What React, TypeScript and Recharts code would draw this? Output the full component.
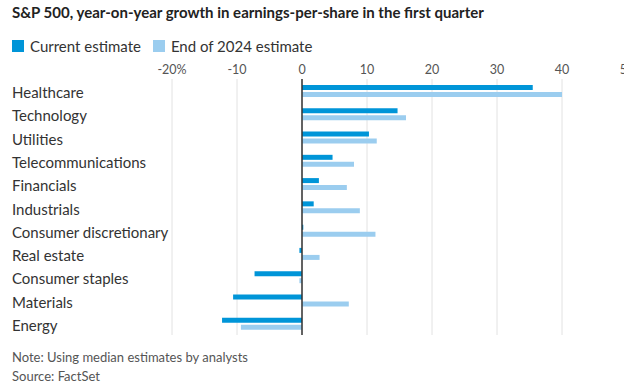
import { Bar, BarChart, CartesianGrid, ReferenceLine, XAxis, YAxis } from "recharts";

const sectors = [
  "Healthcare",
  "Technology",
  "Utilities",
  "Telecommunications",
  "Financials",
  "Industrials",
  "Consumer discretionary",
  "Real estate",
  "Consumer staples",
  "Materials",
  "Energy",
];
const currentEstimate = [35.5, 14.7, 10.3, 4.7, 2.6, 1.8, 0.2, -0.4, -7.3, -10.6, -12.3];
const end2024Estimate = [40.0, 16.0, 11.5, 8.0, 6.9, 8.9, 11.3, 2.7, -0.4, 7.2, -9.4];
const xTicks = [-20, -10, 0, 10, 20, 30, 40, 50];

const DARK = "#0095d8";
const LIGHT = "#9bcdef";
const FONT = "Lato, 'Noto Sans', sans-serif";

const data = sectors.map((name, i) => ({
  name,
  current: currentEstimate[i],
  end2024: end2024Estimate[i],
}));

function CategoryTick({ y, payload }: any) {
  return (
    <text x={12} y={y} dy={7.5} textAnchor="start" fill="#333" fontSize={15} fontFamily={FONT}>
      {payload.value}
    </text>
  );
}

function ValueTick({ x, payload }: any) {
  const label = payload.value === -20 ? "-20%" : String(payload.value);
  return (
    <text x={x} y={74} textAnchor="middle" fill="#555" fontSize={12.5} fontFamily={FONT}>
      {label}
    </text>
  );
}

export default function App() {
  return (
    <div
      style={{
        position: "absolute",
        left: 0,
        top: 0,
        width: 624,
        height: 387,
        overflow: "hidden",
        background: "#fff",
        fontFamily: FONT,
      }}
    >
      <div style={{ position: "absolute", left: 12, top: 3, fontSize: 15, fontWeight: 700, color: "#222" }}>
        S&amp;P 500, year-on-year growth in earnings-per-share in the first quarter
      </div>
      <div style={{ position: "absolute", left: 12, top: 37, display: "flex", alignItems: "center", fontSize: 15, color: "#333" }}>
        <span style={{ width: 12, height: 12, background: DARK, marginRight: 6 }} />
        <span style={{ marginRight: 12 }}>Current estimate</span>
        <span style={{ width: 12, height: 12, background: LIGHT, marginRight: 6 }} />
        <span>End of 2024 estimate</span>
      </div>
      <BarChart
        width={640}
        height={387}
        data={data}
        layout="vertical"
        barSize={5}
        barGap={2}
        margin={{ top: 49, right: 13, bottom: 52, left: 0 }}
        style={{ position: "absolute", left: 0, top: 0 }}
      >
        <CartesianGrid horizontal={false} stroke="#e2e2e2" />
        <XAxis
          type="number"
          orientation="top"
          domain={[-20, 50]}
          ticks={xTicks}
          axisLine={false}
          tickLine={false}
          tick={<ValueTick />}
          height={30}
        />
        <YAxis
          type="category"
          dataKey="name"
          width={172}
          axisLine={false}
          tickLine={false}
          tick={<CategoryTick />}
          interval={0}
        />
        <Bar dataKey="current" fill={DARK} isAnimationActive={false} />
        <Bar dataKey="end2024" fill={LIGHT} isAnimationActive={false} />
        <ReferenceLine x={0} stroke="#333" strokeWidth={1.5} />
      </BarChart>
      <div style={{ position: "absolute", left: 12, top: 348, fontSize: 13, color: "#555", lineHeight: "19px" }}>
        <div>Note: Using median estimates by analysts</div>
        <div>Source: FactSet</div>
      </div>
    </div>
  );
}
